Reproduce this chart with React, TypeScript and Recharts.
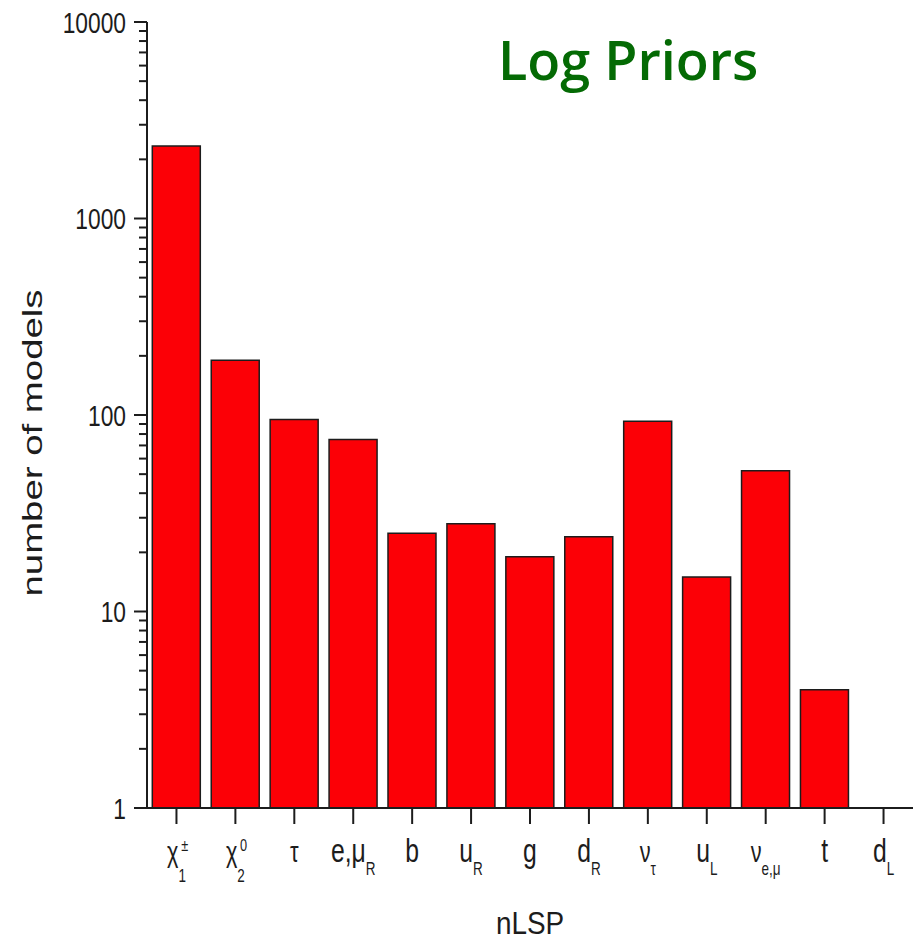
import { Bar, BarChart, XAxis, YAxis } from "recharts";

// nLSP categories, split into base glyph / subscript / superscript
const CATEGORIES = ["χ1±", "χ20", "τ", "e,μR", "b", "uR", "g", "dR", "ντ", "uL", "νe,μ", "t", "dL"];
const BASES = ["χ", "χ", "τ", "e,μ", "b", "u", "g", "d", "ν", "u", "ν", "t", "d"];
const SUBS = ["1", "2", "", "R", "", "R", "", "R", "τ", "L", "e,μ", "", "L"];
const SUPS = ["±", "0", "", "", "", "", "", "", "", "", "", "", ""];

// number of models per nLSP (log priors); d_L has none
const MODELS = [2340, 190, 95, 75, 25, 28, 19, 24, 93, 15, 52, 4, null];

const Y_TICKS = [
  1, 2, 3, 4, 5, 6, 7, 8, 9,
  10, 20, 30, 40, 50, 60, 70, 80, 90,
  100, 200, 300, 400, 500, 600, 700, 800, 900,
  1000, 2000, 3000, 4000, 5000, 6000, 7000, 8000, 9000,
  10000,
];
const Y_LABELED = [1, 10, 100, 1000, 10000];

const data = CATEGORIES.map((name, i) => ({ name, models: MODELS[i] }));

const INK = "#1c1c1c";
const FONT = "'Liberation Sans', Arial, sans-serif";
const isGreek = (s: string) => /^[\u0370-\u03ff]+$/.test(s);

function YTick({ x, y, payload }: any) {
  const v = payload.value;
  const major = Y_LABELED.includes(v);
  return (
    <g>
      <line x1={x - (major ? 13 : 8)} x2={x} y1={y} y2={y} stroke={INK} strokeWidth={2} />
      {major && (
        <text
          transform={`translate(${x - 21},${y}) scale(0.76,1)`}
          textAnchor="end"
          dy="0.36em"
          fontSize={30}
          fontFamily={FONT}
          fill={INK}
        >
          {v}
        </text>
      )}
    </g>
  );
}

function XTick({ x, y, payload, index }: any) {
  const i = payload.index ?? index;
  const base = BASES[i];
  const sub = SUBS[i];
  const sup = SUPS[i];
  const subDy = base === "χ" ? 20 : 13;
  return (
    <g>
      <line x1={x} x2={x} y1={y} y2={y + 16} stroke={INK} strokeWidth={2} />
      <g transform={`translate(${x},${y + 54}) scale(0.75,1)`} fontFamily={FONT} fill={INK}>
        <text textAnchor="middle">
          <tspan fontSize={isGreek(base) ? 29 : 33}>{base}</tspan>
          {sub && (
            <tspan fontSize={18} dy={subDy}>
              {sub}
            </tspan>
          )}
        </text>
        {sup && (
          <text x={11} y={-11} textAnchor="middle" fontSize={17}>
            {sup}
          </text>
        )}
      </g>
    </g>
  );
}

function YLabel({ viewBox }: any) {
  const cy = viewBox.y + viewBox.height / 2 + 28;
  return (
    <text
      transform={`translate(42,${cy}) scale(1,1.37) rotate(-90)`}
      textAnchor="middle"
      fontSize={28}
      fontFamily={FONT}
      fill={INK}
    >
      number of models
    </text>
  );
}

function XLabel({ viewBox }: any) {
  const cx = viewBox.x + viewBox.width / 2;
  return (
    <text
      transform={`translate(${cx},934) scale(0.9,1)`}
      textAnchor="middle"
      fontSize={31}
      fontFamily={FONT}
      fill={INK}
    >
      nLSP
    </text>
  );
}

export default function App() {
  return (
    <div style={{ position: "absolute", left: 0, top: 0, width: 918, height: 942, background: "#fff" }}>
      <BarChart
        width={918}
        height={942}
        data={data}
        margin={{ top: 22, right: 5, bottom: 0, left: 0 }}
        barCategoryGap="9%"
      >
        <XAxis
          dataKey="name"
          height={134}
          interval={0}
          tickSize={0}
          tickMargin={0}
          tickLine={false}
          tick={<XTick />}
          axisLine={{ stroke: INK, strokeWidth: 2 }}
          label={<XLabel />}
        />
        <XAxis
          xAxisId="top"
          dataKey="name"
          orientation="top"
          height={0}
          tick={false}
          tickLine={false}
          axisLine={{ stroke: INK, strokeWidth: 2 }}
        />
        <YAxis
          scale="log"
          domain={[1, 10000]}
          allowDataOverflow
          ticks={Y_TICKS}
          interval={0}
          width={147}
          tickSize={0}
          tickMargin={0}
          tickLine={false}
          tick={<YTick />}
          axisLine={{ stroke: INK, strokeWidth: 2 }}
          label={<YLabel />}
        />
        <YAxis
          yAxisId="right"
          orientation="right"
          width={0}
          tick={false}
          tickLine={false}
          axisLine={{ stroke: INK, strokeWidth: 2 }}
        />
        <Bar dataKey="models" fill="#fc0006" stroke={INK} strokeWidth={1.5} isAnimationActive={false} />
        <text x={498} y={80} fontSize={54} fontFamily="'Open Sans', sans-serif" fontWeight={600} fill="#046a04">
          Log Priors
        </text>
      </BarChart>
    </div>
  );
}
